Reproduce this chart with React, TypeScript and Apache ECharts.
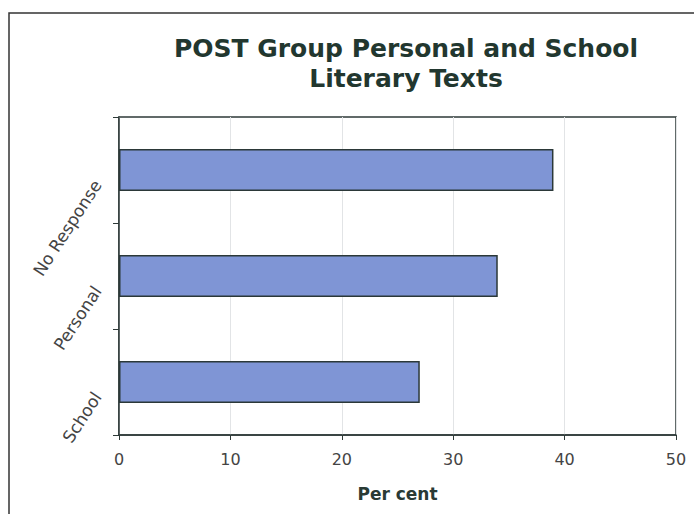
import React, { useEffect, useRef } from "react";
import * as echarts from "echarts";

const categories = ["School", "Personal", "No Response"];
const values = [27, 34, 39];
const xTicks = [0, 10, 20, 30, 40, 50];
const titleText = "POST Group Personal and School\nLiterary Texts";
const xAxisName = "Per cent";

export default function App() {
  const ref = useRef<HTMLDivElement>(null);
  useEffect(() => {
    if (!ref.current) return;
    const chart = echarts.init(ref.current, null, { renderer: "svg" });
    const font = "DejaVu Sans, Verdana, sans-serif";
    chart.setOption({
      animation: false,
      backgroundColor: "#ffffff",
      textStyle: { fontFamily: font },
      title: {
        text: titleText,
        left: 401,
        top: 28,
        textAlign: "center",
        textStyle: {
          fontFamily: font,
          fontSize: 25,
          lineHeight: 30,
          fontWeight: "bold",
          color: "#22372f",
        },
      },
      graphic: [
        {
          type: "rect",
          shape: { x: 9, y: 13, width: 720, height: 540 },
          style: { fill: "none", stroke: "#333", lineWidth: 1.5 },
          silent: true,
        },
      ],
      grid: {
        left: 119,
        top: 117,
        right: 18,
        bottom: 79,
        show: true,
        borderColor: "#2e3a38",
        borderWidth: 1.5,
        backgroundColor: "#ffffff",
      },
      xAxis: {
        type: "value",
        min: xTicks[0],
        max: xTicks[xTicks.length - 1],
        interval: 10,
        name: xAxisName,
        nameLocation: "middle",
        nameGap: 50,
        nameTextStyle: {
          fontFamily: font,
          fontSize: 17,
          fontWeight: "bold",
          color: "#2a3a35",
        },
        axisLine: { show: true, lineStyle: { color: "#2e3a38", width: 1.5 } },
        axisTick: { show: true, length: 5, lineStyle: { color: "#2e3a38" } },
        axisLabel: { fontFamily: font, fontSize: 16, color: "#444", margin: 16 },
        splitLine: { show: true, lineStyle: { color: "#e2e4e6", width: 1 } },
      },
      yAxis: {
        type: "category",
        data: categories,
        axisLine: { show: true, lineStyle: { color: "#2e3a38", width: 1.5 } },
        axisTick: { show: true, length: 6, alignWithLabel: false, lineStyle: { color: "#2e3a38" } },
        axisLabel: {
          fontFamily: font,
          fontSize: 17,
          color: "#444",
          rotate: 57,
          margin: 14,
          padding: [0, 14, 0, 0],
        },
        splitLine: { show: false },
      },
      series: [
        {
          type: "bar",
          data: values,
          barWidth: 42,
          itemStyle: {
            color: "#7f95d5",
            borderColor: "#2b3838",
            borderWidth: 1.5,
          },
        },
      ],
    });
    return () => chart.dispose();
  }, []);
  return (
    <div
      ref={ref}
      style={{ position: "fixed", left: 0, top: 0, width: 694, height: 514 }}
    />
  );
}
